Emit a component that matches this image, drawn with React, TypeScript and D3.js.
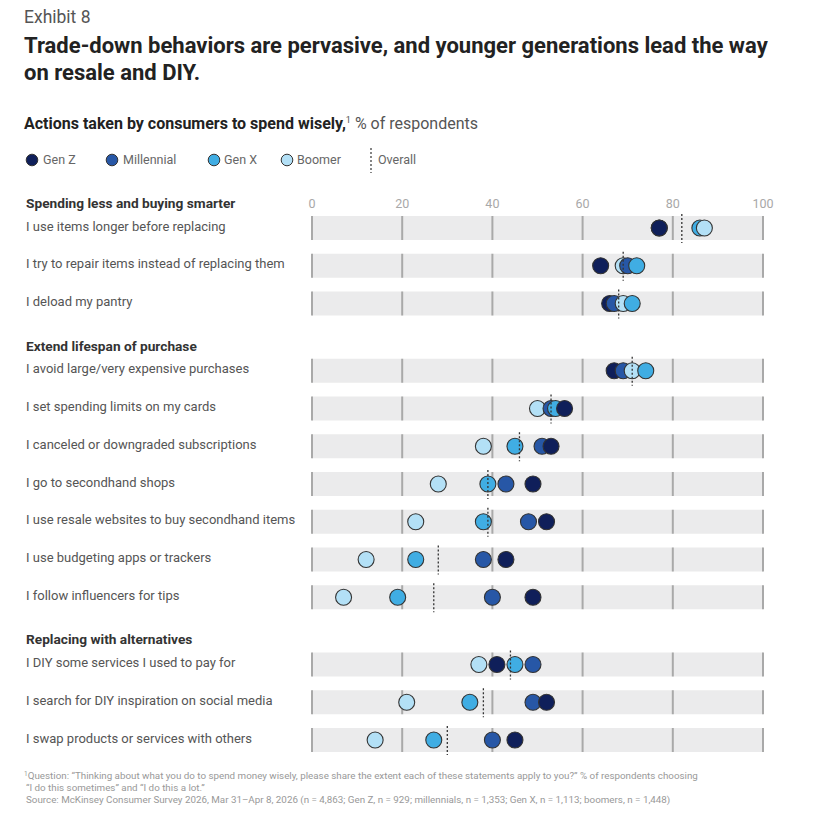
import React from "react";
import * as d3 from "d3";

const categories = [
  "I use items longer before replacing",
  "I try to repair items instead of replacing them",
  "I deload my pantry",
  "I avoid large/very expensive purchases",
  "I set spending limits on my cards",
  "I canceled or downgraded subscriptions",
  "I go to secondhand shops",
  "I use resale websites to buy secondhand items",
  "I use budgeting apps or trackers",
  "I follow influencers for tips",
  "I DIY some services I used to pay for",
  "I search for DIY inspiration on social media",
  "I swap products or services with others",
];
const groupOfRow = [0, 0, 0, 1, 1, 1, 1, 1, 1, 1, 2, 2, 2];
const groupNames = [
  "Spending less and buying smarter",
  "Extend lifespan of purchase",
  "Replacing with alternatives",
];
const genZ = [77, 64, 66, 67, 56, 53, 49, 52, 43, 49, 41, 52, 45];
const millennial = [77, 70, 67, 69, 53, 51, 43, 48, 38, 40, 49, 49, 40];
const genX = [86, 72, 71, 74, 54, 45, 39, 38, 23, 19, 45, 35, 27];
const boomer = [87, 69, 69, 71, 50, 38, 28, 23, 12, 7, 37, 21, 14];
const overall = [82, 69, 68, 71, 53, 46, 39, 39, 28, 27, 44, 38, 30];
const tickValues = [0, 20, 40, 60, 80, 100];

const seriesNames = ["Gen Z", "Millennial", "Gen X", "Boomer"];
const seriesColors = ["#0f1f5a", "#2757a6", "#40ade3", "#b3e0f6"];
const seriesValues = [genZ, millennial, genX, boomer];

const FONT = "Roboto, 'Liberation Sans', Arial, sans-serif";

export default function App() {
  const x = d3.scaleLinear().domain([0, 100]).range([312, 763]);
  const rowStep = 37.75;
  const groupGap = 29.5;
  const yRow = (i: number) => 228 + i * rowStep + groupOfRow[i] * groupGap;
  const bandH = 24;
  const r = 8;

  const headerY = groupNames.map((_, g) => {
    const first = groupOfRow.indexOf(g);
    return yRow(first) - 25;
  });

  const legendItems = [
    { cx: 32, tx: 43 },
    { cx: 112, tx: 123 },
    { cx: 214, tx: 224 },
    { cx: 287, tx: 297 },
  ];

  return (
    <svg
      width={830}
      height={820}
      style={{ position: "absolute", left: 0, top: 0, background: "#fff" }}
      fontFamily={FONT}
    >
      <rect x={0} y={0} width={830} height={820} fill="#fff" />
      <text x={24} y={23} fontSize={17.5} fill="#555">Exhibit 8</text>
      <text x={24} y={53} fontSize={22} fontWeight={700} fill="#222">
        Trade-down behaviors are pervasive, and younger generations lead the way
      </text>
      <text x={24} y={80} fontSize={22} fontWeight={700} fill="#222">
        on resale and DIY.
      </text>
      <text x={24} y={129} fontSize={16} fill="#222">
        <tspan fontWeight={700}>Actions taken by consumers to spend wisely,</tspan>
        <tspan fontSize={9} dy={-6} fill="#555">1</tspan>
        <tspan dy={6} fill="#555"> % of respondents</tspan>
      </text>

      {/* legend */}
      {seriesNames.map((s, i) => (
        <g key={s}>
          <circle cx={legendItems[i].cx} cy={160} r={5.8} fill={seriesColors[i]} stroke="#333" strokeWidth={1} />
          <text x={legendItems[i].tx} y={160} dy="0.35em" fontSize={12.5} fill="#666">{s}</text>
        </g>
      ))}
      <line x1={371} x2={371} y1={148} y2={173} stroke="#444" strokeWidth={1.3} strokeDasharray="2,2" />
      <text x={378} y={160} dy="0.35em" fontSize={12.5} fill="#666">Overall</text>

      {/* axis labels */}
      {tickValues.map((t) => (
        <text key={t} x={x(t)} y={204} dy="0.35em" textAnchor="middle" fontSize={12.5} fill="#a8a8a8">{t}</text>
      ))}

      {/* group headers */}
      {groupNames.map((g, i) => (
        <text key={g} x={26} y={headerY[i]} dy="0.35em" fontSize={13.7} fontWeight={700} fill="#333">{g}</text>
      ))}

      {categories.map((c, i) => {
        const y = yRow(i);
        const pts = seriesValues
          .map((vals, s) => ({ v: vals[i], s }))
          .sort((a, b) => a.v - b.v || b.s - a.s);
        return (
          <g key={c}>
            <text x={26} y={y - 2} dy="0.35em" fontSize={13} fill="#555">{c}</text>
            <rect x={x(0)} y={y - bandH / 2} width={x(100) - x(0)} height={bandH} fill="#ebebec" />
            {tickValues.map((t) => (
              <line key={t} x1={x(t)} x2={x(t)} y1={y - bandH / 2} y2={y + bandH / 2} stroke="#a9a9a9" strokeWidth={2} />
            ))}
            {pts.map((p) => (
              <circle key={p.s} cx={x(p.v)} cy={y} r={r} fill={seriesColors[p.s]} stroke="#333" strokeWidth={1.1} />
            ))}
            <line x1={x(overall[i])} x2={x(overall[i])} y1={y - bandH / 2 - 2} y2={y + bandH / 2 + 3} stroke="#333" strokeWidth={1.3} strokeDasharray="2,2" />
          </g>
        );
      })}

      {/* footnotes */}
      <text x={24} y={779} fontSize={9.8} fill="#999">
        <tspan fontSize={6.5} dy={-3}>1</tspan>
        <tspan dy={3}>Question: “Thinking about what you do to spend money wisely, please share the extent each of these statements apply to you?” % of respondents choosing</tspan>
      </text>
      <text x={26} y={791} fontSize={9.8} fill="#999">“I do this sometimes” and “I do this a lot.”</text>
      <text x={26} y={803} fontSize={9.8} fill="#999">
        Source: McKinsey Consumer Survey 2026, Mar 31–Apr 8, 2026 (n = 4,863; Gen Z, n = 929; millennials, n = 1,353; Gen X, n = 1,113; boomers, n = 1,448)
      </text>
    </svg>
  );
}
